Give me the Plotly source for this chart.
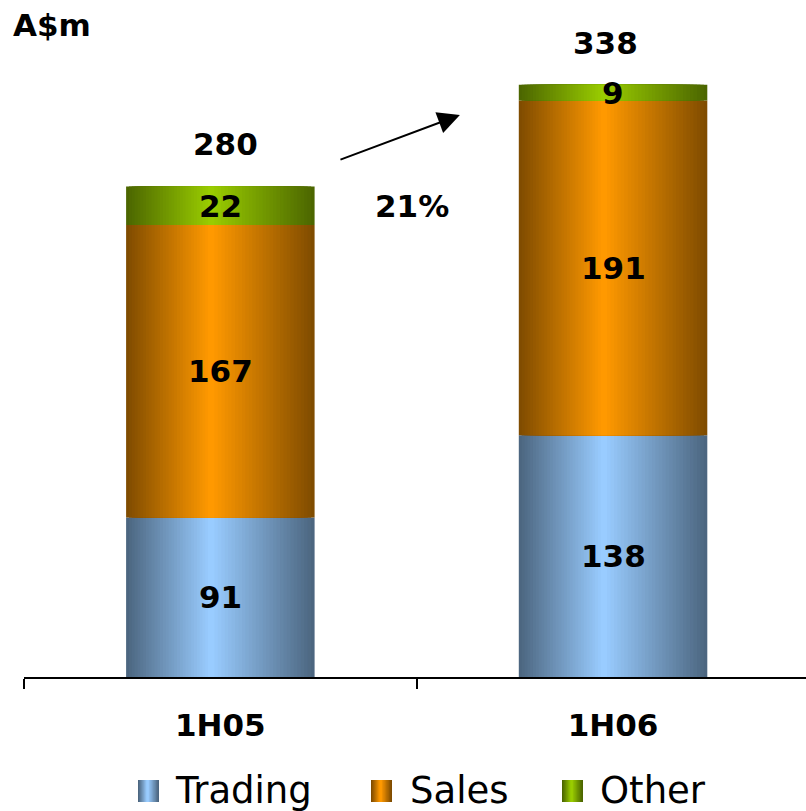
import plotly.graph_objects as go

# ---- data ----
periods = ["1H05", "1H06"]
trading = [91, 138]
sales = [167, 191]
other = [22, 9]
series_names = ["Trading", "Sales", "Other"]
growth_label = "21%"
unit_label = "A$m"

series_values = {"Trading": trading, "Sales": sales, "Other": other}
base_colors = {"Trading": "#99CCFF", "Sales": "#FF9900", "Other": "#99CC00"}

FONT = "DejaVu Sans"
LABEL_SIZE = 31
BAR_WIDTH = 0.48      # in category units
PEAK = 0.45           # where the highlight sits across the bar (0 = left edge)
LAYERS = 30           # nested strips used to shade each bar

# page geometry (px)
FIG_W, FIG_H = 806, 811
M_L, M_R, M_T, M_B = 24, 0, 20, 134
PLOT_W = FIG_W - M_L - M_R
PLOT_H = FIG_H - M_T - M_B
Y_MAX = 375
CAT_PX = 392.7        # pixel width of one category slot


def hex_to_rgb(h):
    h = h.lstrip("#")
    return tuple(int(h[i:i + 2], 16) for i in (0, 2, 4))


def mix(c1, c2, t):
    a, b = hex_to_rgb(c1), hex_to_rgb(c2)
    return "rgb({},{},{})".format(*(round(a[k] + (b[k] - a[k]) * t) for k in range(3)))


def shade(c, f=0.5):
    r, g, b = hex_to_rgb(c)
    return "#{:02x}{:02x}{:02x}".format(round(r * f), round(g * f), round(b * f))


def px_x(px):
    return (px - M_L) / PLOT_W


def px_y(py):
    return (M_T + PLOT_H - py) / PLOT_H


bold = dict(family=FONT, size=LABEL_SIZE, color="black", weight="bold")

fig = go.Figure()

# stacked bars, each shaded dark-edge -> light-centre with nested strips
bases = [0] * len(periods)
for name in series_names:
    vals = series_values[name]
    centre = base_colors[name]
    edge = shade(centre)
    for i in range(LAYERS):
        t = i / LAYERS
        left = -BAR_WIDTH / 2 + t * PEAK * BAR_WIDTH
        right = BAR_WIDTH / 2 - t * (1 - PEAK) * BAR_WIDTH
        fig.add_trace(go.Bar(
            x=periods, y=vals, base=list(bases),
            width=right - left, offset=left,
            marker=dict(color=mix(edge, centre, i / (LAYERS - 1)), line=dict(width=0)),
            showlegend=False, hoverinfo="skip", name=name,
        ))
    # segment value labels
    for p, v, b in zip(periods, vals, bases):
        fig.add_annotation(
            x=p, y=b + v / 2, text=str(v), showarrow=False,
            xanchor="center", yanchor="middle", font=bold,
        )
    bases = [b + v for b, v in zip(bases, vals)]

# totals above each bar
total_xshift = [5, -8]
for p, tot, dx in zip(periods, bases, total_xshift):
    fig.add_annotation(
        x=p, y=tot, text=str(tot), showarrow=False,
        xanchor="center", yanchor="middle", yshift=42, xshift=dx, font=bold,
    )

# growth arrow and label
fig.add_annotation(
    x=0.61, y=320.8, ax=0.302, ay=295, xref="x", yref="y", axref="x", ayref="y",
    text="", showarrow=True, arrowhead=2, arrowsize=2.2, arrowwidth=2, arrowcolor="black",
)
fig.add_annotation(
    x=0.488, y=268.8, text=growth_label, showarrow=False,
    xanchor="center", yanchor="middle", font=bold,
)

# unit label
fig.add_annotation(
    xref="paper", yref="paper", x=px_x(11), y=px_y(24.5), text=unit_label,
    showarrow=False, xanchor="left", yanchor="middle", font=bold,
)

# legend drawn as shaded swatches + text
legend_pos = {"Trading": (138, 173), "Sales": (371, 408), "Other": (562, 598)}
SW_W, SW_TOP, SW_BOT = 21, 780, 802
for name in series_names:
    sx, tx = legend_pos[name]
    centre = base_colors[name]
    edge = shade(centre)
    n = 8
    for i in range(n):
        t = i / n
        l = sx + t * PEAK * SW_W
        r = sx + SW_W - t * (1 - PEAK) * SW_W
        fig.add_shape(
            type="rect", xref="paper", yref="paper",
            x0=px_x(l), x1=px_x(r), y0=px_y(SW_BOT), y1=px_y(SW_TOP),
            fillcolor=mix(edge, centre, i / (n - 1)), line=dict(width=0), layer="above",
        )
    fig.add_annotation(
        xref="paper", yref="paper", x=px_x(tx), y=px_y(790), text=name,
        showarrow=False, xanchor="left", yanchor="middle",
        font=dict(family=FONT, size=37, color="black"),
    )

fig.update_layout(
    width=FIG_W, height=FIG_H,
    margin=dict(l=M_L, r=M_R, t=M_T, b=M_B, pad=0),
    barmode="overlay",
    plot_bgcolor="white", paper_bgcolor="white",
    showlegend=False,
)
fig.update_xaxes(
    type="category", range=[-0.5, -0.5 + PLOT_W / CAT_PX],
    showline=True, linecolor="black", linewidth=2,
    ticks="outside", tickson="boundaries", ticklen=10, tickwidth=2, tickcolor="black",
    tickfont=dict(family=FONT, size=LABEL_SIZE, color="black", weight="bold"),
    ticklabelstandoff=20, showgrid=False, zeroline=False,
)
fig.update_yaxes(range=[0, Y_MAX], visible=False, showgrid=False)

fig.write_html("out.html")
